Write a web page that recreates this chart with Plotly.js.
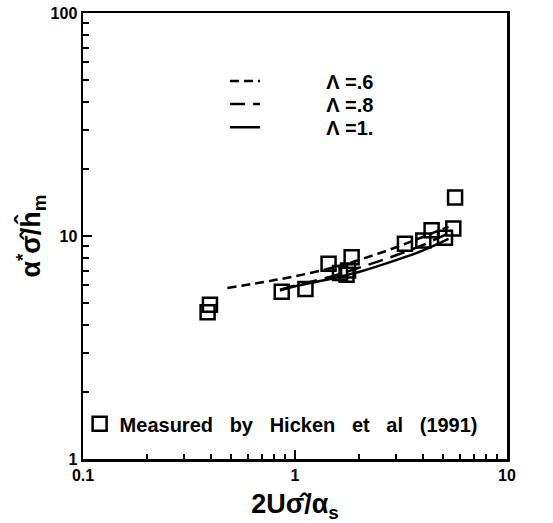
<!DOCTYPE html>
<html>
<head>
<meta charset="utf-8">
<script src="https://cdn.plot.ly/plotly-3.0.1.min.js"></script>
<style>html,body{margin:0;padding:0;background:#fff;}#chart{width:553px;height:523px;}</style>
</head>
<body>
<div id="chart"></div>
<script>
// Measured data (Hicken et al 1991)
const measX = [0.387, 0.397, 0.866, 1.12, 1.44, 1.63, 1.75, 1.78, 1.85, 3.30, 4.03, 4.41, 5.10, 5.58, 5.69];
const measY = [4.55, 4.92, 5.63, 5.79, 7.50, 6.83, 6.71, 7.00, 8.03, 9.22, 9.55, 10.6, 9.81, 10.8, 14.9];

// Model curves
const lam06X = [0.48, 0.7, 1.0, 1.5, 2.0, 3.0, 4.0, 5.3];
const lam06Y = [5.85, 6.2, 6.6, 7.2, 7.8, 8.9, 9.9, 11.0];
const lam08X = [0.85, 1.0, 1.5, 2.0, 3.0, 4.0, 5.3];
const lam08Y = [5.75, 6.0, 6.6, 7.2, 8.2, 9.1, 10.3];
const lam10X = [0.85, 1.0, 1.5, 2.0, 3.0, 4.0, 5.3];
const lam10Y = [5.7, 5.95, 6.45, 6.9, 7.8, 8.6, 9.7];

const curveNames = ['Λ =.6', 'Λ =.8', 'Λ =1.'];
const measName = 'Measured by Hicken et al (1991)';

const xTickVals = [0.1, 1, 10];
const xTickText = ['0.1', '1', '10'];
const yTickVals = [1, 10, 100];
const yTickText = ['1', '10', '100'];
const minorVals = [0.2,0.3,0.4,0.5,0.6,0.7,0.8,0.9,2,3,4,5,6,7,8,9,20,30,40,50,60,70,80,90];

const nb = '\u00a0';
const pad = nb.repeat(11);
const wideName = measName.split(' ').join(nb + nb + nb);
const FAM = 'Liberation Sans, Arial, sans-serif';

const traces = [
  {x: lam06X, y: lam06Y, mode: 'lines', name: pad + curveNames[0], line: {color: '#000', width: 2.5, dash: '9px,5px', shape: 'spline'}, legend: 'legend'},
  {x: lam08X, y: lam08Y, mode: 'lines', name: pad + curveNames[1], line: {color: '#000', width: 2.5, dash: '15px,8px', shape: 'spline'}, legend: 'legend3'},
  {x: lam10X, y: lam10Y, mode: 'lines', name: pad + curveNames[2], line: {color: '#000', width: 2.5, shape: 'spline'}, legend: 'legend4'},
  {x: measX, y: measY, mode: 'markers', name: wideName, marker: {symbol: 'square-open', size: 14, color: '#000', line: {width: 2.5, color: '#000'}}, legend: 'legend2'}
];

const tickFont = {family: FAM, size: 16, color: '#000', weight: 'bold'};
const legFont = {family: FAM, size: 20, color: '#000', weight: 'bold'};
function leg(x, y) {
  return {x: x, y: y, xanchor: 'left', yanchor: 'middle', bgcolor: 'rgba(0,0,0,0)', borderwidth: 0, font: legFont, itemwidth: 30};
}
const layout = {
  width: 553, height: 523,
  margin: {l: 83, r: 46, t: 13, b: 64},
  paper_bgcolor: '#fff', plot_bgcolor: '#fff',
  showlegend: true,
  font: {family: FAM, color: '#000'},
  xaxis: {
    type: 'log', range: [-1, 1],
    tickmode: 'array', tickvals: xTickVals, ticktext: xTickText,
    ticks: 'inside', ticklen: 9, tickwidth: 2, tickcolor: '#000',
    minor: {tickmode: 'array', tickvals: minorVals, ticks: 'inside', ticklen: 5, tickwidth: 2, tickcolor: '#000', showgrid: false},
    showline: true, linewidth: 2.5, linecolor: '#000', mirror: true,
    showgrid: false, zeroline: false,
    tickfont: tickFont,
    title: {text: '2Uσ\u0302/α<sub>s</sub>', font: {family: FAM, size: 27, color: '#000', weight: 'bold'}, standoff: 14}
  },
  yaxis: {
    type: 'log', range: [0, 2],
    tickmode: 'array', tickvals: yTickVals, ticktext: yTickText,
    ticks: 'inside', ticklen: 9, tickwidth: 2, tickcolor: '#000',
    minor: {tickmode: 'array', tickvals: minorVals, ticks: 'inside', ticklen: 6, tickwidth: 2, tickcolor: '#000', showgrid: false},
    showline: true, linewidth: 2.5, linecolor: '#000', mirror: true,
    showgrid: false, zeroline: false,
    tickfont: tickFont,
    title: {text: 'α<sup>*</sup>σ\u0302/h\u0302<sub>m</sub>', font: {family: FAM, size: 27, color: '#000', weight: 'bold'}, standoff: 2}
  },
  legend: leg(0.335, 0.8475),
  legend3: leg(0.335, 0.796),
  legend4: leg(0.335, 0.744),
  legend2: leg(-0.008, 0.079)
};

Plotly.newPlot('chart', traces, layout, {displayModeBar: false, staticPlot: true});
</script>
</body>
</html>
